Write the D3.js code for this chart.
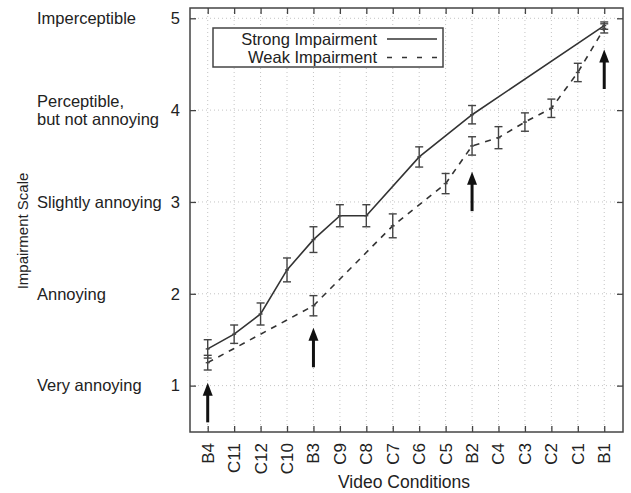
<!DOCTYPE html>
<html>
<head>
<meta charset="utf-8">
<script src="https://cdn.jsdelivr.net/npm/d3@7"></script>
<style>
    body { margin: 0; background: #fff; }
    text { font-family: "Liberation Sans", Arial, sans-serif; fill: #222; }
</style>
</head>
<body>
<div id="chart"></div>
<script>
// categories along the x axis
const conditions = ["B4", "C11", "C12", "C10", "B3", "C9", "C8", "C7", "C6", "C5", "B2", "C4", "C3", "C2", "C1", "B1"];

// strong impairment series (mean + half error)
const strongCats = ["B4", "C11", "C12", "C10", "B3", "C9", "C8", "C6", "B2", "B1"];
const strongMean = [1.40, 1.56, 1.78, 2.26, 2.59, 2.85, 2.85, 3.49, 3.95, 4.92];
const strongErr  = [0.10, 0.10, 0.12, 0.13, 0.14, 0.12, 0.12, 0.11, 0.10, 0.04];

// weak impairment series
const weakCats = ["B4", "B3", "C7", "C5", "B2", "C4", "C3", "C2", "C1", "B1"];
const weakMean = [1.25, 1.87, 2.74, 3.20, 3.61, 3.70, 3.87, 4.02, 4.41, 4.89];
const weakErr  = [0.08, 0.11, 0.13, 0.11, 0.10, 0.12, 0.10, 0.10, 0.10, 0.05];

// arrows marking the B conditions (tip value)
const arrowCats = ["B4", "B3", "B2", "B1"];
const arrowTips = [1.03, 1.63, 3.33, 4.66];
const arrowLen = 0.43;

const yTicks = [1, 2, 3, 4, 5];
const yNames = ["Very annoying", "Annoying", "Slightly annoying", ["Perceptible,", "but not annoying"], "Imperceptible"];

const W = 631, H = 493;
const margin = {top: 8, right: 8, bottom: 61, left: 190};
const pw = W - margin.left - margin.right;
const ph = H - margin.top - margin.bottom;

const svg = d3.select("#chart").append("svg")
    .attr("width", W).attr("height", H);

const g = svg.append("g").attr("transform", `translate(${margin.left},${margin.top})`);

const idx = d3.scaleOrdinal().domain(conditions).range(d3.range(conditions.length));
const x = d3.scaleLinear().domain([-0.67, 15.71]).range([0, pw]);
const y = d3.scaleLinear().domain([0.495, 5.112]).range([ph, 0]);
const xc = c => x(idx(c));

// grid
g.append("g").selectAll("line").data(conditions).enter().append("line")
    .attr("x1", d => xc(d)).attr("x2", d => xc(d))
    .attr("y1", 0).attr("y2", ph)
    .attr("stroke", "#c4c4c4").attr("stroke-width", 1).attr("stroke-dasharray", "1,3");
g.append("g").selectAll("line").data(yTicks).enter().append("line")
    .attr("x1", 0).attr("x2", pw)
    .attr("y1", d => y(d)).attr("y2", d => y(d))
    .attr("stroke", "#c4c4c4").attr("stroke-width", 1).attr("stroke-dasharray", "1,3");

// frame
g.append("rect").attr("width", pw).attr("height", ph)
    .attr("fill", "none").attr("stroke", "#444").attr("stroke-width", 1.5);

// ticks (inward, all four sides)
const axL = d3.axisLeft(y).tickValues(yTicks).tickSize(-6).tickPadding(10).tickFormat(d3.format("d"));
const axR = d3.axisRight(y).tickValues(yTicks).tickSize(-6).tickFormat("");
const axB = d3.axisBottom(x).tickValues(d3.range(conditions.length)).tickSize(-6).tickFormat("");
const axT = d3.axisTop(x).tickValues(d3.range(conditions.length)).tickSize(-6).tickFormat("");

function styleAxis(sel) {
    sel.select(".domain").remove();
    sel.selectAll(".tick line").attr("stroke", "#444").attr("stroke-width", 1.3);
}
g.append("g").call(axL).call(styleAxis)
    .selectAll("text").attr("font-size", 16.5).attr("fill", "#222")
    .attr("font-family", "Liberation Sans, Arial, sans-serif");
g.append("g").attr("transform", `translate(${pw},0)`).call(axR).call(styleAxis);
g.append("g").attr("transform", `translate(0,${ph})`).call(axB).call(styleAxis);
g.append("g").call(axT).call(styleAxis);

// x labels rotated
g.append("g").selectAll("text").data(conditions).enter().append("text")
    .attr("transform", d => `translate(${xc(d) + 6},${ph + 11}) rotate(-90)`)
    .attr("text-anchor", "end")
    .attr("font-size", 17)
    .text(d => d);

// y descriptive labels
const yl = g.append("g").selectAll("text").data(yTicks).enter().append("text")
    .attr("x", 37 - margin.left)
    .attr("y", d => y(d))
    .attr("font-size", 16.5);
yl.each(function(d, i) {
    const t = d3.select(this);
    const name = yNames[i];
    if (Array.isArray(name)) {
        t.append("tspan").attr("x", 37 - margin.left).attr("dy", "-0.18em").text(name[0]);
        t.append("tspan").attr("x", 37 - margin.left).attr("dy", "1.07em").text(name[1]);
    } else {
        t.attr("dy", "0.35em").text(name);
    }
});

// axis titles
svg.append("text")
    .attr("transform", "translate(28,231) rotate(-90)")
    .attr("text-anchor", "middle").attr("font-size", 15)
    .text("Impairment Scale");
svg.append("text")
    .attr("x", 404).attr("y", 488)
    .attr("text-anchor", "middle").attr("font-size", 17.5)
    .text("Video Conditions");

// series
const strongData = strongCats.map((c, i) => ({c, v: strongMean[i], e: strongErr[i]}));
const weakData = weakCats.map((c, i) => ({c, v: weakMean[i], e: weakErr[i]}));

const line = d3.line().x(d => xc(d.c)).y(d => y(d.v));

g.append("path").datum(strongData).attr("d", line)
    .attr("fill", "none").attr("stroke", "#333").attr("stroke-width", 1.6);
g.append("path").datum(weakData).attr("d", line)
    .attr("fill", "none").attr("stroke", "#333").attr("stroke-width", 1.6)
    .attr("stroke-dasharray", "6,6");

function errorBars(data) {
    const eb = g.append("g").attr("stroke", "#444").attr("stroke-width", 1.4);
    data.forEach(d => {
        const cx = xc(d.c);
        eb.append("line").attr("x1", cx).attr("x2", cx)
            .attr("y1", y(d.v - d.e)).attr("y2", y(d.v + d.e));
        eb.append("line").attr("x1", cx - 4).attr("x2", cx + 4)
            .attr("y1", y(d.v - d.e)).attr("y2", y(d.v - d.e));
        eb.append("line").attr("x1", cx - 4).attr("x2", cx + 4)
            .attr("y1", y(d.v + d.e)).attr("y2", y(d.v + d.e));
        eb.append("line").attr("x1", cx - 2).attr("x2", cx + 2)
            .attr("y1", y(d.v)).attr("y2", y(d.v));
    });
}
errorBars(strongData);
errorBars(weakData);

// arrows
arrowCats.forEach((c, i) => {
    const cx = xc(c);
    const tip = y(arrowTips[i]);
    const tail = y(arrowTips[i] - arrowLen);
    g.append("line").attr("x1", cx).attr("x2", cx)
        .attr("y1", tail).attr("y2", tip + 10)
        .attr("stroke", "#111").attr("stroke-width", 3);
    g.append("path")
        .attr("d", `M${cx},${tip} L${cx - 5},${tip + 13} L${cx + 5},${tip + 13} Z`)
        .attr("fill", "#111");
});

// legend
const lg = svg.append("g").attr("transform", "translate(213,28)");
lg.append("rect").attr("width", 230).attr("height", 39)
    .attr("fill", "#fff").attr("stroke", "#444").attr("stroke-width", 1.5);
const legendItems = [{name: "Strong Impairment", dash: null}, {name: "Weak Impairment", dash: "5,10"}];
legendItems.forEach((it, i) => {
    const ly = 11 + i * 18.5;
    lg.append("text").attr("x", 164).attr("y", ly).attr("dy", "0.35em")
        .attr("text-anchor", "end").attr("font-size", 16.5).text(it.name);
    lg.append("line").attr("x1", 174).attr("x2", 224).attr("y1", ly).attr("y2", ly)
        .attr("stroke", "#333").attr("stroke-width", 1.4)
        .attr("stroke-dasharray", it.dash);
});
</script>
</body>
</html>
